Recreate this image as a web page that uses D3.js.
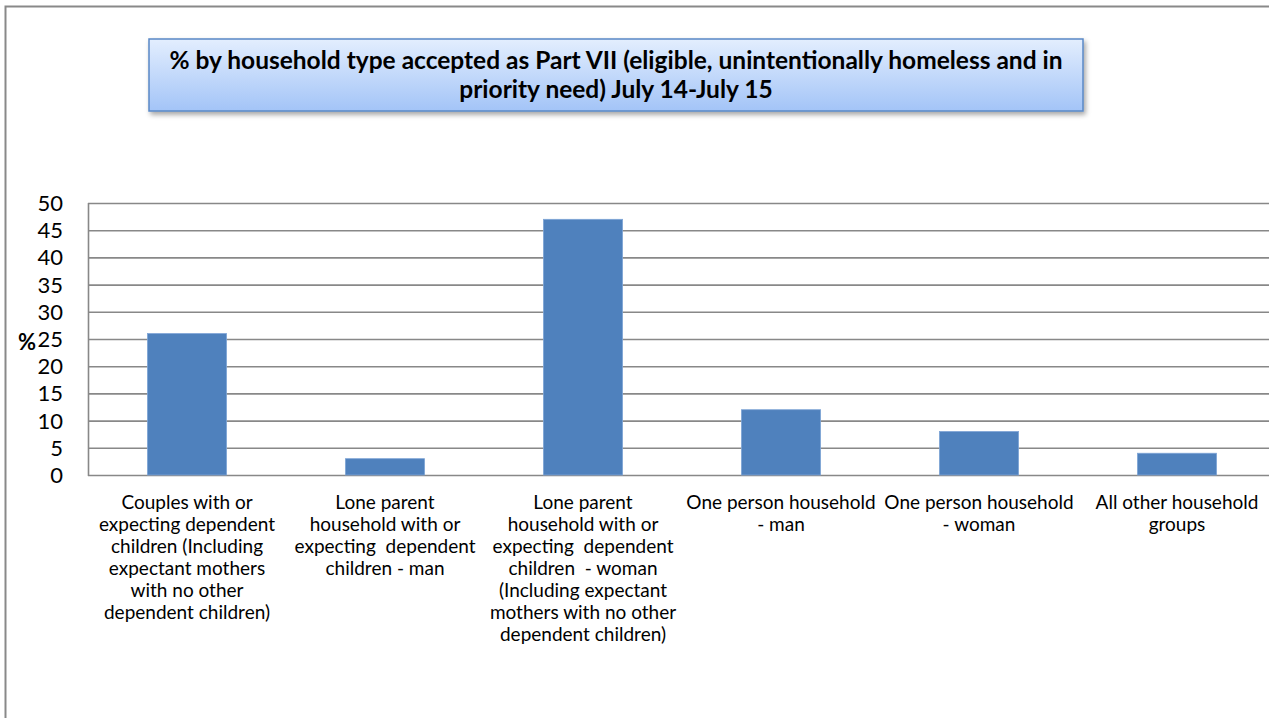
<!DOCTYPE html>
<html>
<head>
<meta charset="utf-8">
<script src="https://cdn.jsdelivr.net/npm/d3@7"></script>
<style>
  html, body { margin: 0; padding: 0; background: #fff; }
  svg { display: block; }
</style>
</head>
<body>
<svg id="chart" width="1269" height="718"></svg>
<script>
const categories = [
  ["Couples with or", "expecting dependent", "children (Including", "expectant mothers", "with no other", "dependent children)"],
  ["Lone parent", "household with or", "expecting  dependent", "children - man"],
  ["Lone parent", "household with or", "expecting  dependent", "children  - woman", "(Including expectant", "mothers with no other", "dependent children)"],
  ["One person household", "- man"],
  ["One person household", "- woman"],
  ["All other household", "groups"]
];
const values = [26, 3, 47, 12, 8, 4];
const yTicks = [0, 5, 10, 15, 20, 25, 30, 35, 40, 45, 50];
const titleLines = ["% by household type accepted as Part VII (eligible, unintentionally homeless and in", "priority need) July 14-July 15"];
const yLabel = "%";

const svg = d3.select("#chart");
const font = "Lato, 'Open Sans', sans-serif";

const defs = svg.append("defs");
const grad = defs.append("linearGradient").attr("id", "tg").attr("x1", 0).attr("y1", 0).attr("x2", 0).attr("y2", 1);
grad.append("stop").attr("offset", "0%").attr("stop-color", "#e3eefe");
grad.append("stop").attr("offset", "100%").attr("stop-color", "#a3c4f7");
const flt = defs.append("filter").attr("id", "sh").attr("x", "-5%").attr("y", "-20%").attr("width", "110%").attr("height", "150%");
flt.append("feDropShadow").attr("dx", 2).attr("dy", 3).attr("stdDeviation", 2.5).attr("flood-color", "#000").attr("flood-opacity", 0.35);

// outer frame
svg.append("path").attr("d", "M5.5,718 L5.5,6.5 L1269,6.5")
  .attr("fill", "none").attr("stroke", "#898989").attr("stroke-width", 2);

// title box
svg.append("rect").attr("x", 149).attr("y", 39).attr("width", 934).attr("height", 72)
  .attr("fill", "url(#tg)").attr("stroke", "#5a88c6").attr("stroke-width", 1.5)
  .attr("filter", "url(#sh)");
svg.append("g").selectAll("text").data(titleLines).join("text")
  .attr("x", 616).attr("y", (d, i) => 69 + i * 29)
  .attr("text-anchor", "middle")
  .attr("font-family", font).attr("font-weight", "bold").attr("font-size", 24.5)
  .attr("fill", "#000").text(d => d);

const margin = { left: 88, top: 203, right: 1276, bottom: 475 };
const x = d3.scaleBand().domain(d3.range(categories.length)).range([margin.left, margin.right]).paddingInner(0.6).paddingOuter(0.3);
const y = d3.scaleLinear().domain([0, 50]).range([margin.bottom, margin.top]);

// gridlines
svg.append("g").selectAll("line").data(yTicks).join("line")
  .attr("x1", margin.left).attr("x2", margin.right)
  .attr("y1", d => y(d) + 0.5).attr("y2", d => y(d) + 0.5)
  .attr("stroke", "#888").attr("stroke-width", 1.6);

// y axis line
svg.append("line").attr("x1", margin.left + 0.5).attr("x2", margin.left + 0.5)
  .attr("y1", margin.top).attr("y2", margin.bottom + 1)
  .attr("stroke", "#888").attr("stroke-width", 1.6);

// bars
svg.append("g").selectAll("rect").data(values).join("rect")
  .attr("x", (d, i) => x(i)).attr("width", x.bandwidth())
  .attr("y", d => y(d)).attr("height", d => y(0) - y(d))
  .attr("fill", "#4f81bd").attr("stroke", "#7fa5d6").attr("stroke-width", 0.8);

// y tick labels
svg.append("g").selectAll("text").data(yTicks).join("text")
  .attr("x", 63).attr("y", d => y(d) + 8)
  .attr("text-anchor", "end")
  .attr("font-family", font).attr("font-size", 22).attr("fill", "#000")
  .text(d => d);

svg.append("text").attr("x", 18).attr("y", 350)
  .attr("font-family", font).attr("font-weight", "bold").attr("font-size", 22).attr("fill", "#000")
  .text(yLabel);

// category labels
const cg = svg.append("g").selectAll("g").data(categories).join("g");
cg.each(function(lines, i) {
  const cx = x(i) + x.bandwidth() / 2;
  d3.select(this).selectAll("text").data(lines).join("text")
    .attr("x", cx).attr("y", (d, j) => 509 + j * 22)
    .attr("text-anchor", "middle")
    .attr("font-family", font).attr("font-size", 19).attr("fill", "#000")
    .attr("xml:space", "preserve").style("white-space", "pre")
    .text(d => d);
});
</script>
</body>
</html>
